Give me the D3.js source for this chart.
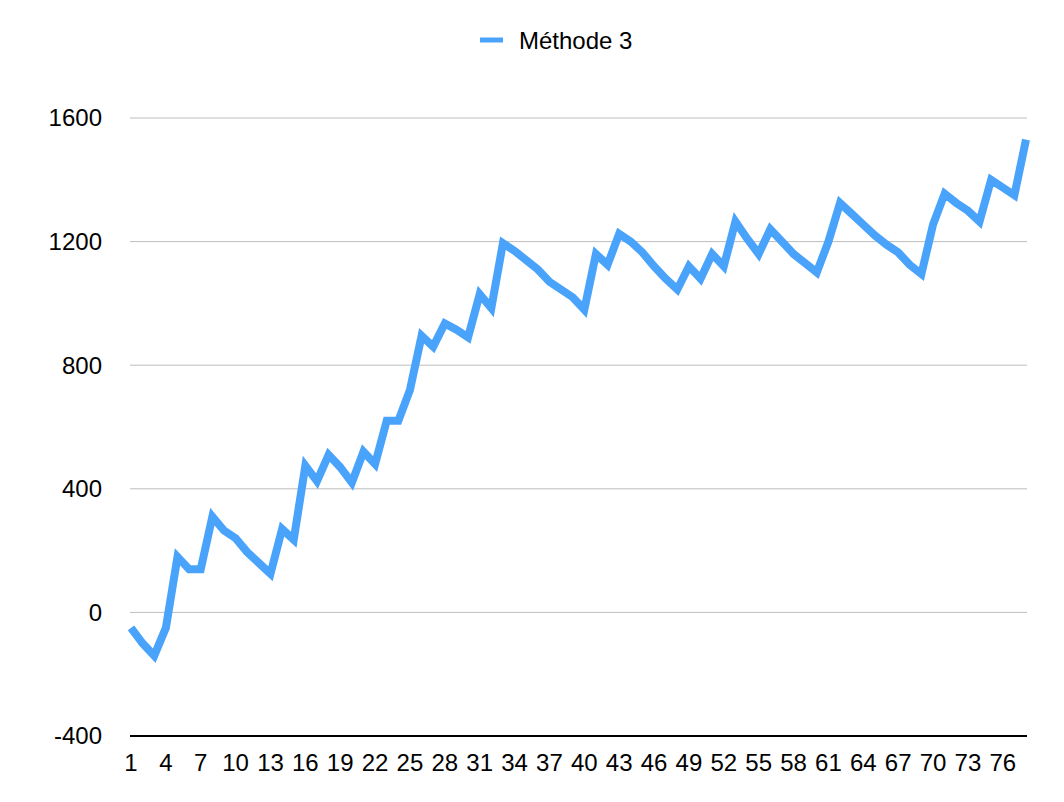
<!DOCTYPE html>
<html>
<head>
<meta charset="utf-8">
<script src="https://cdn.jsdelivr.net/npm/d3@7"></script>
<style>
  body { margin: 0; background: #fff; }
  text { font-family: "Liberation Sans", Arial, sans-serif; }
</style>
</head>
<body>
<svg id="chart" width="1064" height="802"></svg>
<script>
// data
var seriesName = "Méthode 3";
var categories = d3.range(1, 79);
var values = [
    -50, -100, -140, -50, 180, 140, 140, 310, 265, 240,
    195, 160, 125, 270, 235, 475, 425, 510, 470, 420,
    520, 480, 620, 620, 720, 895, 860, 935, 915, 890,
    1030, 985, 1195, 1170, 1140, 1110, 1070, 1045, 1020, 980,
    1160, 1125, 1225, 1200, 1165, 1120, 1080, 1045, 1120, 1080,
    1160, 1120, 1265, 1210, 1160, 1240, 1200, 1160, 1130, 1100,
    1200, 1325, 1290, 1255, 1220, 1190, 1165, 1125, 1095, 1255,
    1355, 1325, 1300, 1265, 1400, 1375, 1350, 1530];
var yTicks = [-400, 0, 400, 800, 1200, 1600];
var xTickLabels = categories.filter(function (d) { return (d - 1) % 3 === 0; });

var svg = d3.select('#chart');
var plotLeft = 130, plotRight = 1027, plotTop = 118, plotBottom = 736;

var x = d3.scalePoint()
    .domain(categories)
    .range([131, 1026]);

var y = d3.scaleLinear()
    .domain([-400, 1600])
    .range([plotBottom, plotTop]);

// gridlines
svg.selectAll('.grid')
    .data(yTicks.filter(function (d) { return d > -400; }))
    .enter()
    .append('line')
    .attr('class', 'grid')
    .attr('x1', plotLeft)
    .attr('x2', plotRight)
    .attr('y1', function (d) { return y(d); })
    .attr('y2', function (d) { return y(d); })
    .attr('stroke', '#bdbdbd')
    .attr('stroke-width', 1);

// y labels
svg.selectAll('.ylab')
    .data(yTicks)
    .enter()
    .append('text')
    .attr('class', 'ylab')
    .attr('x', 102)
    .attr('y', function (d) { return y(d); })
    .attr('dy', '0.35em')
    .style('text-anchor', 'end')
    .style('font-size', '24px')
    .style('fill', '#000')
    .text(function (d) { return d; });

// bottom axis line
svg.append('line')
    .attr('x1', plotLeft)
    .attr('x2', plotRight)
    .attr('y1', plotBottom)
    .attr('y2', plotBottom)
    .attr('stroke', '#000')
    .attr('stroke-width', 2);

// x labels
svg.selectAll('.xlab')
    .data(xTickLabels)
    .enter()
    .append('text')
    .attr('class', 'xlab')
    .attr('x', function (d) { return x(d); })
    .attr('y', 771)
    .style('text-anchor', 'middle')
    .style('font-size', '24px')
    .style('fill', '#000')
    .text(function (d) { return d; });

// the line
var line = d3.line()
    .x(function (d, i) { return x(categories[i]); })
    .y(function (d) { return y(d); });

svg.append('path')
    .datum(values)
    .attr('d', line)
    .style('fill', 'none')
    .attr('stroke', '#4aa3fb')
    .attr('stroke-width', 8)
    .attr('stroke-linejoin', 'miter');

// legend
svg.append('line')
    .attr('x1', 480)
    .attr('x2', 503)
    .attr('y1', 40)
    .attr('y2', 40)
    .attr('stroke', '#4aa3fb')
    .attr('stroke-width', 5);

svg.append('text')
    .attr('x', 519)
    .attr('y', 49)
    .style('font-size', '24px')
    .style('fill', '#000')
    .text(seriesName);
</script>
</body>
</html>
